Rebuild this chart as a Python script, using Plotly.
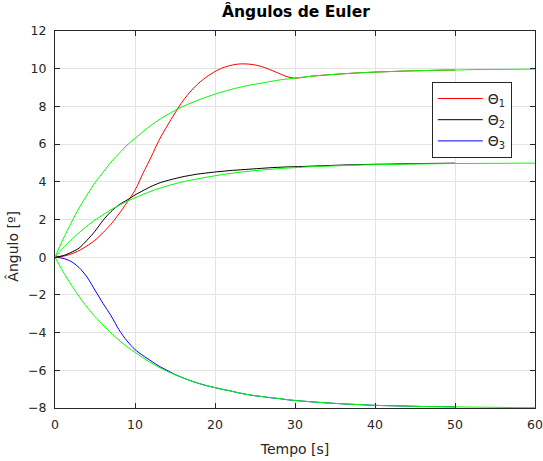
import plotly.graph_objects as go

# Time samples for the reference (desired) trajectories [s]
t_ref = [0, 1, 2, 3, 4, 5, 6, 7, 8, 9, 10, 12, 14, 16, 18, 20, 22, 24, 26, 28,
         30, 32, 34, 36, 38, 40, 42, 44, 46, 48, 50, 52, 54, 56, 58, 60]
ref_1 = [0, 0.95, 1.8, 2.6, 3.3, 3.95, 4.5, 5.05, 5.5, 5.95, 6.3, 7.0, 7.55, 8.0,
         8.35, 8.65, 8.9, 9.1, 9.25, 9.4, 9.5, 9.6, 9.67, 9.73, 9.78, 9.82, 9.85,
         9.88, 9.9, 9.92, 9.93, 9.95, 9.96, 9.96, 9.97, 9.98]
ref_2 = [0, 0.48, 0.9, 1.3, 1.65, 1.97, 2.25, 2.52, 2.75, 2.97, 3.15, 3.5, 3.78,
         4.0, 4.17, 4.32, 4.45, 4.55, 4.63, 4.7, 4.75, 4.8, 4.83, 4.86, 4.89, 4.91,
         4.92, 4.94, 4.95, 4.96, 4.97, 4.97, 4.98, 4.98, 4.99, 4.99]
ref_3 = [0, -0.76, -1.45, -2.08, -2.65, -3.15, -3.6, -4.02, -4.4, -4.75, -5.05,
         -5.6, -6.05, -6.4, -6.7, -6.92, -7.1, -7.28, -7.4, -7.5, -7.6, -7.67,
         -7.73, -7.78, -7.82, -7.86, -7.88, -7.9, -7.92, -7.93, -7.94, -7.95,
         -7.96, -7.97, -7.98, -7.98]

# Time samples for the simulated Euler angles [s]
t_sim = [0, 1, 2, 3, 4, 5, 6, 7, 8, 9, 10, 11, 12, 13, 14, 15, 16, 17, 18, 19,
         20, 21, 22, 23, 24, 25, 26, 27, 28, 29, 30, 32, 34, 36, 38, 40, 42, 44,
         46, 48, 50]
theta_1 = [0, 0.05, 0.17, 0.35, 0.6, 0.9, 1.3, 1.75, 2.3, 2.9, 3.55, 4.45, 5.3,
           6.2, 6.95, 7.65, 8.3, 8.82, 9.25, 9.58, 9.85, 10.05, 10.18, 10.25,
           10.25, 10.2, 10.09, 9.93, 9.75, 9.58, 9.5, 9.6, 9.67, 9.73, 9.78,
           9.82, 9.85, 9.88, 9.9, 9.92, 9.93]
theta_2 = [0, 0.08, 0.25, 0.48, 0.9, 1.38, 1.95, 2.42, 2.78, 3.03, 3.3, 3.53,
           3.75, 3.93, 4.06, 4.17, 4.27, 4.35, 4.42, 4.47, 4.52, 4.56, 4.6, 4.63,
           4.66, 4.69, 4.72, 4.75, 4.77, 4.79, 4.8, 4.83, 4.86, 4.89, 4.91, 4.93,
           4.94, 4.96, 4.97, 4.98, 4.99]
theta_3 = [0, -0.06, -0.22, -0.55, -1.05, -1.75, -2.45, -3.1, -3.85, -4.44,
           -4.9, -5.22, -5.5, -5.78, -6.0, -6.22, -6.4, -6.56, -6.7, -6.82, -6.92,
           -7.02, -7.1, -7.2, -7.28, -7.35, -7.4, -7.46, -7.5, -7.56, -7.6, -7.67,
           -7.73, -7.78, -7.82, -7.86, -7.88, -7.9, -7.92, -7.93, -7.94]

series = [
    ("Θ<sub>1</sub>", theta_1, "#FF0000"),
    ("Θ<sub>2</sub>", theta_2, "#000000"),
    ("Θ<sub>3</sub>", theta_3, "#0000FF"),
]

FONT = "DejaVu Sans, Verdana, sans-serif"
AXCOL = "#262626"

fig = go.Figure()
for name, vals, col in series:
    fig.add_trace(go.Scatter(
        x=t_sim, y=vals, name=name, mode="lines",
        line=dict(color=col, width=1, shape="spline", smoothing=0.8),
    ))
for vals in (ref_1, ref_2, ref_3):
    fig.add_trace(go.Scatter(
        x=t_ref, y=vals, mode="lines", showlegend=False, hoverinfo="skip",
        line=dict(color="#00FF00", width=1, shape="spline", smoothing=0.8),
    ))

axis_common = dict(
    showline=True, linecolor=AXCOL, linewidth=1, mirror="ticks",
    ticks="inside", ticklen=5, tickcolor=AXCOL, tickwidth=1,
    showgrid=True, gridcolor="#E3E3E3", gridwidth=1, zeroline=False,
    automargin=False,
    tickfont=dict(family=FONT, size=12.5, color=AXCOL),
)

fig.update_layout(
    width=543, height=461,
    margin=dict(l=55, r=8, t=31, b=53),
    paper_bgcolor="white", plot_bgcolor="white",
    title=dict(text="<b>Ângulos de Euler</b>", x=0.545, xanchor="center",
               y=0.975, yanchor="middle",
               font=dict(family=FONT, size=15.5, color="#000000")),
    xaxis=dict(range=[0, 60], dtick=10, tick0=0, ticklabelstandoff=5,
               title=dict(text="Tempo [s]", standoff=13,
                          font=dict(family=FONT, size=14, color=AXCOL)),
               **axis_common),
    yaxis=dict(range=[-8, 12], dtick=2, tick0=0, ticklabelstandoff=5,
               **axis_common),
    legend=dict(x=0.785, y=0.865, xanchor="left", yanchor="top",
                bgcolor="white", bordercolor=AXCOL, borderwidth=1,
                font=dict(family=FONT, size=14, color=AXCOL),
                itemwidth=45, tracegroupgap=0),
    showlegend=True,
    annotations=[dict(
        text="Ângulo [º]", textangle=-90, showarrow=False,
        xref="paper", yref="paper", x=-0.088, y=0.43,
        xanchor="center", yanchor="middle",
        font=dict(family=FONT, size=14, color=AXCOL),
    )],
)

fig.write_html("out.html")
